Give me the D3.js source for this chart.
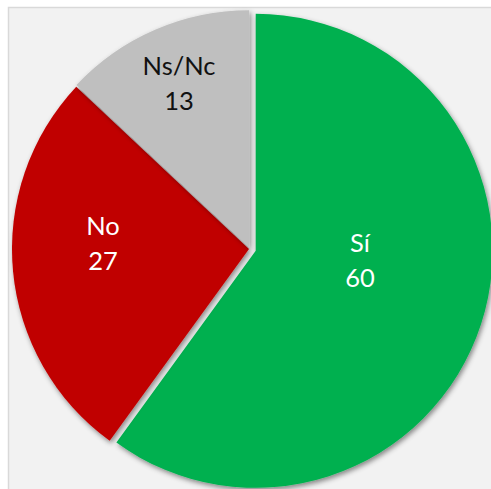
<!DOCTYPE html>
<html>
<head>
<meta charset="utf-8">
<script src="https://cdn.jsdelivr.net/npm/d3@7/dist/d3.min.js"></script>
<style>
  html, body { margin: 0; padding: 0; background: #ffffff; }
  svg { display: block; }
</style>
</head>
<body>
<svg id="chart" width="491" height="489"></svg>
<script>
// Survey answers
const categories = ["Sí", "No", "Ns/Nc"];
const values = [60, 27, 13];
const colors = ["#00b050", "#c00000", "#bfbfbf"];
const labelColors = ["#ffffff", "#ffffff", "#111111"];

// Layout
const W = 491, H = 489;
const center = [250, 249];
const radius = 237;
const explode = [6, 1, 2];               // per-slice pull-out, px
const labelOffset = [[110, 9], [-147, -8], [-71, -168]]; // label block anchor relative to pie centre

const svg = d3.select("#chart");

const defs = svg.append("defs");
const f = defs.append("filter").attr("id", "shadow")
  .attr("x", "-20%").attr("y", "-20%").attr("width", "140%").attr("height", "140%");
f.append("feDropShadow")
  .attr("dx", 1.5).attr("dy", 2.5).attr("stdDeviation", 2.6)
  .attr("flood-color", "#000").attr("flood-opacity", 0.45);

// Chart area panel
svg.append("rect")
  .attr("x", 8.5).attr("y", 7.5).attr("width", W + 10).attr("height", H + 10)
  .attr("fill", "#f2f2f2").attr("stroke", "#d9d9d9").attr("stroke-width", 1.5);

const pie = d3.pie().sort(null).value(d => d)(values);
const arc = d3.arc().innerRadius(0).outerRadius(radius);

const g = svg.append("g").attr("transform", `translate(${center[0]},${center[1]})`);

g.selectAll("path.slice")
  .data(pie)
  .join("path")
  .attr("class", "slice")
  .attr("d", arc)
  .attr("fill", (d, i) => colors[i])
  .attr("filter", "url(#shadow)")
  .attr("transform", (d, i) => {
    const a = (d.startAngle + d.endAngle) / 2;
    return `translate(${Math.sin(a) * explode[i]},${-Math.cos(a) * explode[i]})`;
  });

const labels = g.selectAll("g.label")
  .data(pie)
  .join("g")
  .attr("class", "label")
  .attr("transform", (d, i) => `translate(${labelOffset[i][0]},${labelOffset[i][1]})`);

labels.append("text")
  .attr("text-anchor", "middle")
  .attr("y", -6)
  .attr("font-family", "Lato, 'Open Sans', sans-serif")
  .attr("font-size", 25.5)
  .attr("fill", (d, i) => labelColors[i])
  .text((d, i) => categories[i]);

labels.append("text")
  .attr("text-anchor", "middle")
  .attr("y", 29)
  .attr("font-family", "Lato, 'Open Sans', sans-serif")
  .attr("font-size", 25.5)
  .attr("fill", (d, i) => labelColors[i])
  .text(d => d.data);
</script>
</body>
</html>
